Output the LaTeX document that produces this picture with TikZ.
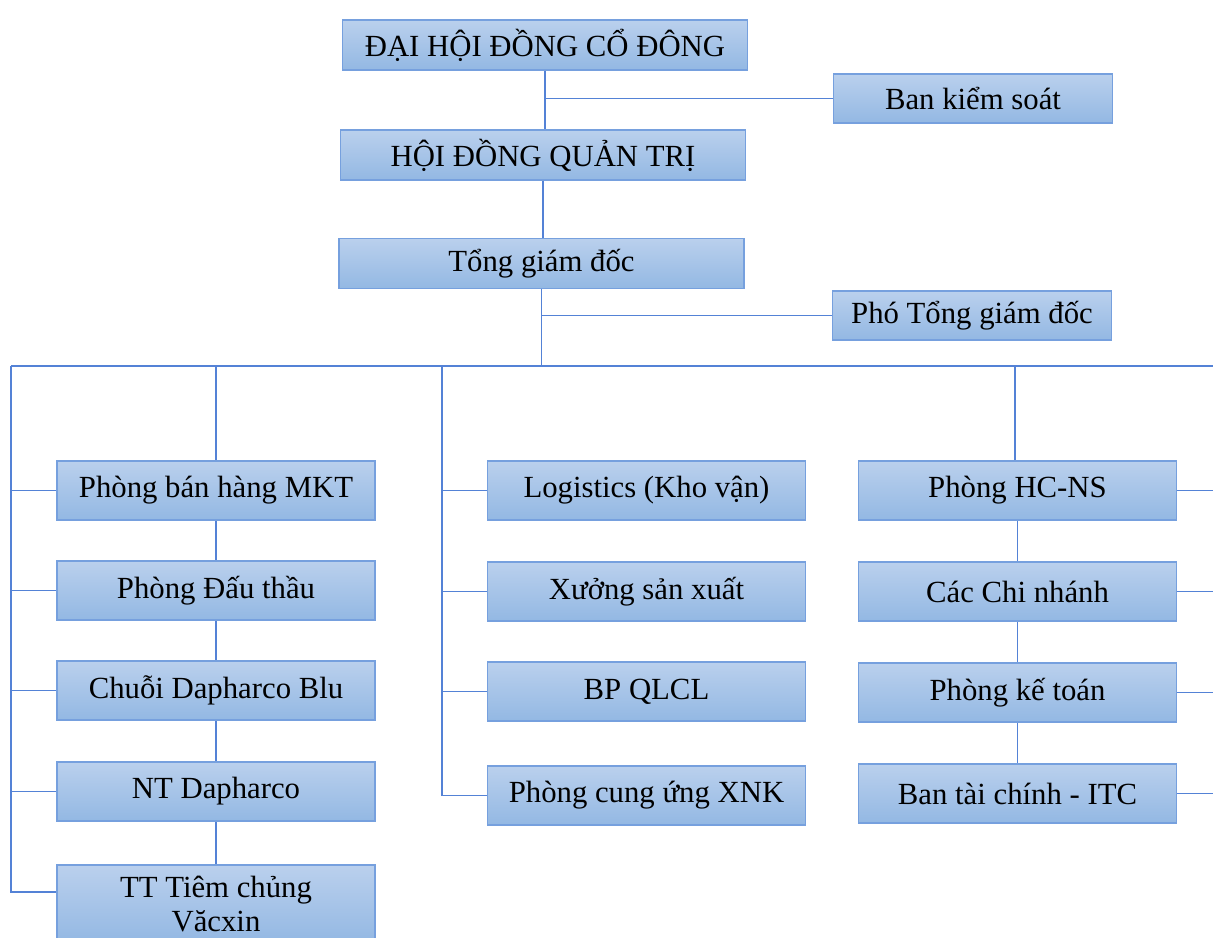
\documentclass[tikz,border=0pt]{standalone}
\usepackage{fontspec}
\setmainfont{Liberation Serif}
\definecolor{boxtop}{RGB}{186,208,237}
\definecolor{boxbot}{RGB}{147,184,227}
\definecolor{boxedge}{RGB}{118,160,222}
\definecolor{linkblue}{RGB}{84,130,214}
\tikzset{
  unit/.style={draw=boxedge, line width=0.8pt, top color=boxtop, bottom color=boxbot,
    minimum width=6.36cm, minimum height=1.18cm, inner sep=0pt, align=center,
    font=\fontsize{17.5}{19}\selectfont},
  topunit/.style={unit, minimum width=8.1cm, minimum height=1cm},
  sideunit/.style={unit, minimum width=5.58cm, minimum height=0.98cm},
  link/.style={draw=linkblue, line width=1.1pt}
}

\begin{document}
\begin{tikzpicture}[x=0.02cm,y=-0.02cm]

	% Frame of the picture
	\useasboundingbox (0,0) rectangle (1213,937);
	\clip (0,0) rectangle (1213,937);

	% Top of the chart
	\node[topunit] (dhdcd) at (545,45) {ĐẠI HỘI ĐỒNG CỔ ĐÔNG};
	\node[sideunit] (bks) at (973,98.5) {Ban kiểm soát};
	\node[topunit] (hdqt) at (543,155) {HỘI ĐỒNG QUẢN TRỊ};
	\node[topunit] (tgd) at (541.5,263.5) {Tổng giám đốc};
	\node[sideunit] (ptgd) at (972,315.5) {Phó Tổng giám đốc};

	% Bus under the general director
	\coordinate (busL) at (11,366);
	\coordinate (bus2) at (442,366);
	\coordinate (bus3) at (1015,366);
	\coordinate (busR) at (1240,366);

	% Left column
	\node[unit] (mkt) at (216,490.5) {Phòng bán hàng MKT};
	\node[unit] (dauthau) at (216,590.5) {Phòng Đấu thầu};
	\node[unit] (blu) at (216,690.5) {Chuỗi Dapharco Blu};
	\node[unit] (nt) at (216,791.5) {NT Dapharco};
	\node[unit, minimum height=1.56cm] (tiem) at (216,904) {TT Tiêm chủng\\Văcxin};

	% Middle column
	\node[unit] (logi) at (646.5,490.5) {Logistics (Kho vận)};
	\node[unit] (xuong) at (646.5,591.5) {Xưởng sản xuất};
	\node[unit] (qlcl) at (646.5,691.5) {BP QLCL};
	\node[unit] (xnk) at (646.5,795.5) {Phòng cung ứng XNK};

	% Right column
	\node[unit] (hcns) at (1017.5,490.5) {Phòng HC-NS};
	\node[unit] (chinhanh) at (1017.5,591.5) {Các Chi nhánh};
	\node[unit] (ketoan) at (1017.5,692.5) {Phòng kế toán};
	\node[unit] (itc) at (1017.5,793.5) {Ban tài chính - ITC};

	% Links at the top
	\draw[link] (dhdcd.south) -- (dhdcd.south |- hdqt.north);
	\draw[link] (dhdcd.south |- bks.west) -- (bks.west);
	\draw[link] (hdqt.south) -- (hdqt.south |- tgd.north);
	\draw[link] (tgd.south) -- (tgd.south |- busL);
	\draw[link] (tgd.south |- ptgd.west) -- (ptgd.west);
	\draw[link] (busL) -- (busR);

	% Links of the left column
	\draw[link] (mkt.north |- busL) -- (mkt.north);
	\draw[link] (mkt) -- (dauthau) -- (blu) -- (nt) -- (tiem);
	\draw[link] (busL) |- ([yshift=2.4mm]tiem.west);
	\foreach \n in {mkt,dauthau,blu,nt}
		\draw[link] (busL |- \n.west) -- (\n.west);

	% Links of the middle column
	\draw[link] (bus2) |- (xnk.west);
	\foreach \n in {logi,xuong,qlcl}
		\draw[link] (bus2 |- \n.west) -- (\n.west);

	% Links of the right column
	\draw[link] (bus3) -- (bus3 |- hcns.north);
	\draw[link] (hcns) -- (chinhanh) -- (ketoan) -- (itc);
	\foreach \n in {hcns,chinhanh,ketoan,itc}
		\draw[link] (\n.east) -- (\n.east -| busR);

	% Boxes again over the links
	\foreach \n/\t in {mkt/Phòng bán hàng MKT,dauthau/Phòng Đấu thầu,blu/Chuỗi Dapharco Blu,nt/NT Dapharco,logi/Logistics (Kho vận),xuong/Xưởng sản xuất,qlcl/BP QLCL,xnk/Phòng cung ứng XNK,hcns/Phòng HC-NS,chinhanh/Các Chi nhánh,ketoan/Phòng kế toán,itc/Ban tài chính - ITC}
		\node[unit] at (\n) {\t};
	\node[unit, minimum height=1.56cm] at (tiem) {TT Tiêm chủng\\Văcxin};

\end{tikzpicture}
\end{document}
